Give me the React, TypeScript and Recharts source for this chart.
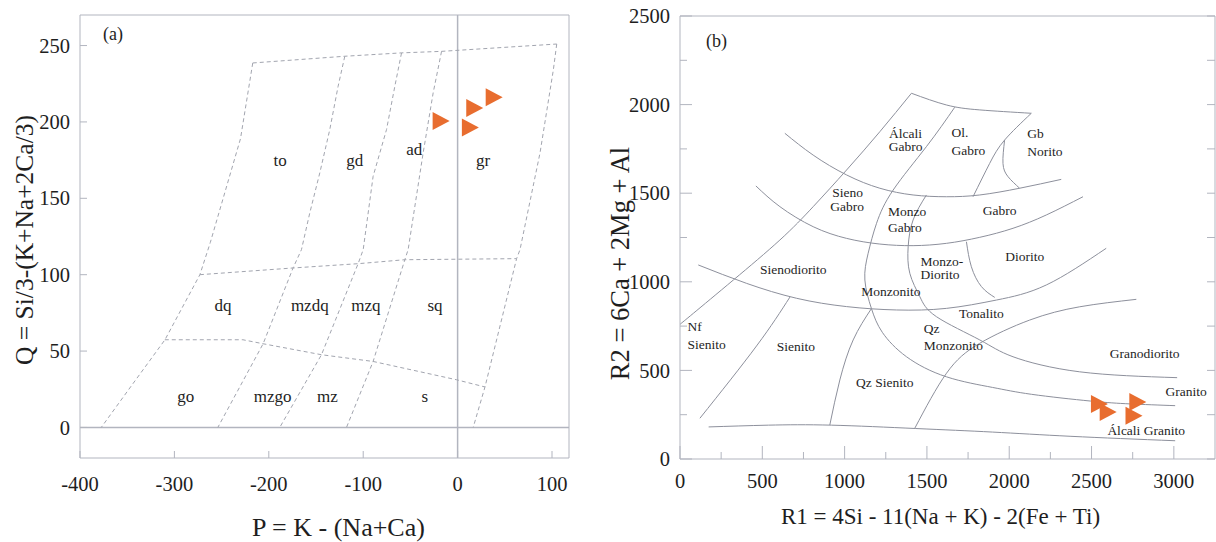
import { ComposedChart, Line, ReferenceLine, Scatter, XAxis, YAxis } from "recharts";

type Pt = [number, number];
type Lab = [number, number, string];

// ---- (a) P-Q diagram ----
const pqTicksX = [-400, -300, -200, -100, 0, 100];
const pqTicksY = [0, 50, 100, 150, 200, 250];

const pqTop: Pt[] = [[-217, 238.6], [-119.5, 243], [-59.4, 245.2], [-17, 246.2], [105, 251]];
const pqLeft: Pt[] = [[-217, 238.6], [-230, 189], [-262, 121], [-273, 100], [-310, 57.4], [-344, 28.6], [-377.5, 0]];
const pqTo: Pt[] = [[-119.5, 243], [-126.6, 223.3], [-135.4, 195], [-146, 166.6], [-156.6, 140.4], [-165.4, 116.4], [-174.3, 104.4], [-206, 54.8], [-254, 0]];
const pqGd: Pt[] = [[-59.4, 245.2], [-66.5, 223.3], [-75.3, 195], [-89.5, 164.4], [-100, 116.4], [-105.4, 107.2], [-144.2, 47.6], [-188.4, 0]];
const pqAd: Pt[] = [[-17, 246.2], [-25.9, 219], [-36.5, 179.7], [-52.4, 116.4], [-55.9, 109.8], [-89.5, 43.2], [-117.7, 0]];
const pqRight: Pt[] = [[105, 251], [101.4, 234], [87.3, 179.7], [66.1, 116.4], [62.5, 110.5], [29, 26.5], [16.5, 0]];
const pq100: Pt[] = [[-273, 100], [-174.3, 104.4], [-105.4, 107.2], [-55.9, 109.8], [62.5, 110.5]];
const pq50: Pt[] = [[-310.2, 57.4], [-227.4, 57.4], [-206.1, 54.8], [-144.2, 47.6], [-89.5, 43.2], [-1, 31.2], [29, 26.5]];

const pqLabels: Lab[] = [
  [-188, 175, "to"], [-109, 175, "gd"], [-46, 182, "ad"], [27, 175, "gr"],
  [-248.6, 80.4, "dq"], [-156.6, 80.4, "mzdq"], [-97.2, 80.4, "mzq"], [-24, 80.4, "sq"],
  [-288, 20.3, "go"], [-196, 20.3, "mzgo"], [-138, 20.3, "mz"], [-34.7, 20.3, "s"],
];
const pqTag: Lab[] = [[-365, 258, "(a)"]];
const pqSamples: Pt[] = [[-18, 200.6], [17.6, 209.2], [38.2, 216.1], [13, 196.3]];

// ---- (b) R1-R2 diagram ----
const rrTicksX = [0, 250, 500, 750, 1000, 1250, 1500, 1750, 2000, 2250, 2500, 2750, 3000];
const rrTicksY = [0, 250, 500, 750, 1000, 1250, 1500, 1750, 2000, 2250, 2500];

const rrTopArc: Pt[] = [[1406, 2064], [1618, 1998], [1821, 1970], [2134, 1951]];
const rrArcA: Pt[] = [[637, 1838], [809, 1715], [1012, 1603], [1214, 1528], [1416, 1490], [1618, 1480], [1821, 1490], [2063, 1528], [2316, 1578]];
const rrArcB: Pt[] = [[461, 1541], [607, 1424], [809, 1311], [1012, 1245], [1214, 1213], [1416, 1204], [1618, 1217], [1821, 1251], [2023, 1302], [2225, 1377], [2448, 1480]];
const rrArcC: Pt[] = [[111, 1095], [405, 991], [708, 907], [1012, 860], [1315, 841], [1618, 850], [1922, 897], [2225, 982], [2589, 1189]];
const rrGranodiorite: Pt[] = [[1426, 173], [1619, 484], [1821, 653], [2124, 784], [2428, 859], [2772, 901]];
const rrTonalite: Pt[] = [[1497, 1490], [1416, 1349], [1386, 1198], [1396, 1048], [1457, 916], [1558, 803], [1821, 672], [2023, 577], [2428, 492], [3020, 459]];
const rrMonzonite: Pt[] = [[1669, 1985], [1497, 1763], [1295, 1518], [1194, 1330], [1143, 1161], [1123, 1010], [1163, 849], [1229, 715], [1376, 577], [1618, 464], [1898, 404], [2136, 365], [2494, 327], [2733, 311], [3008, 301]];
const rrAlkaliEdge: Pt[] = [[1406, 2064], [1214, 1847], [1012, 1631], [809, 1424], [607, 1236], [324, 1010], [81, 822], [0, 760]];
const rrOlGabro: Pt[] = [[2134, 1951], [1972, 1800], [1881, 1668], [1780, 1480]];
const rrNorite: Pt[] = [[1972, 1800], [1962, 1668], [1993, 1593], [2063, 1528]];
const rrDiorite: Pt[] = [[1740, 1226], [1770, 1085], [1831, 973], [1912, 912]];
const rrSyenite: Pt[] = [[668, 914], [465, 638], [121, 230]];
const rrQzSyenite: Pt[] = [[1163, 849], [1052, 672], [971, 446], [910, 192]];
const rrBase: Pt[] = [[174, 181], [537, 191], [919, 191], [1432, 172], [1898, 152], [2375, 128], [3008, 103]];

const rrLabels: Lab[] = [
  [1370, 1838, "Álcali"], [1370, 1766, "Gabro"], [1018, 1505, "Sieno"], [1015, 1424, "Gabro"],
  [1942, 1405, "Gabro"], [2094, 1146, "Diorito"], [688, 1070, "Sienodiorito"], [1281, 944, "Monzonito"],
  [1831, 822, "Tonalito"], [704, 638, "Sienito"], [2822, 596, "Granodiorito"], [1244, 431, "Qz Sienito"],
  [3075, 381, "Granito"], [2832, 164, "Álcali Granito"],
];
const rrLabelsLeft: Lab[] = [
  [1649, 1842, "Ol."], [1649, 1743, "Gabro"], [2110, 1836, "Gb"], [2110, 1734, "Norito"],
  [1264, 1399, "Monzo"], [1264, 1305, "Gabro"], [1461, 1118, "Monzo-"], [1461, 1040, "Diorito"],
  [45, 750, "Nf"], [45, 650, "Sienito"], [1481, 737, "Qz"], [1481, 643, "Monzonito"],
];
const rrTag: Lab[] = [[222, 2358, "(b)"]];
const rrSamples: Pt[] = [[2545, 310], [2598, 265], [2778, 322], [2755, 244]];

const pqLines = [pqTop, pqLeft, pqTo, pqGd, pqAd, pqRight, pq100, pq50];
const rrLines = [rrTopArc, rrArcA, rrArcB, rrArcC, rrGranodiorite, rrTonalite, rrMonzonite, rrAlkaliEdge, rrOlGabro, rrNorite, rrDiorite, rrSyenite, rrQzSyenite, rrBase];

const toXY = (d: Pt[]) => d.map(([x, y]) => ({ x, y }));
const toLab = (d: Lab[]) => d.map(([x, y, t]) => ({ x, y, t }));

const INK = "#1e1e1e";
const FRAME = "#b2b5bf";
const DASH = "#a2a5af";
const CURVE = "#8d909c";
const ORANGE = "#e86d2f";
const FONT = "Liberation Serif";

const bottomTick = (gap: number, long: number, short: number, major: (v: number) => boolean) => (p: any) => {
  const v = p.payload.value;
  const m = major(v);
  const y0 = p.y - gap;
  return (
    <g>
      <line x1={p.x} x2={p.x} y1={y0} y2={y0 - (m ? long : short)} stroke={FRAME} />
      {m && (
        <text x={p.x} y={p.y} dy="0.71em" textAnchor="middle" fontFamily={FONT} fontSize={20.5} fill={INK}>
          {v}
        </text>
      )}
    </g>
  );
};

const leftTick = (gap: number, long: number, short: number, major: (v: number) => boolean) => (p: any) => {
  const v = p.payload.value;
  const m = major(v);
  const x0 = p.x + gap;
  return (
    <g>
      <line x1={x0} x2={x0 + (m ? long : short)} y1={p.y} y2={p.y} stroke={FRAME} />
      {m && (
        <text x={p.x} y={p.y} dy="0.35em" textAnchor="end" fontFamily={FONT} fontSize={20.5} fill={INK}>
          {v}
        </text>
      )}
    </g>
  );
};

const topTick = (len: number) => (p: any) => <line x1={p.x} x2={p.x} y1={p.y} y2={p.y + len} stroke={FRAME} />;
const rightTick = (len: number) => (p: any) => <line x1={p.x} x2={p.x - len} y1={p.y} y2={p.y} stroke={FRAME} />;

const titleX = (text: string, dx: number, dy: number, size: number) => (p: any) => {
  const vb = p.viewBox || { x: 0, y: 0, width: 0, height: 0 };
  return (
    <text x={vb.x + vb.width / 2 + dx} y={vb.y + dy} textAnchor="middle" dominantBaseline="central" fontFamily={FONT} fontSize={size} fill={INK}>
      {text}
    </text>
  );
};

const titleY = (text: string, cx: number, dy: number, size: number) => (p: any) => {
  const vb = p.viewBox || { x: 0, y: 0, width: 0, height: 0 };
  const x = vb.x + cx;
  const y = vb.y + vb.height / 2 + dy;
  return (
    <text x={x} y={y} transform={`rotate(-90 ${x} ${y})`} textAnchor="middle" dominantBaseline="central" fontFamily={FONT} fontSize={size} fill={INK}>
      {text}
    </text>
  );
};

const textShape = (anchor: "start" | "middle", size: number) => (p: any) => (
  <text x={p.cx} y={p.cy} dy="0.35em" textAnchor={anchor} fontFamily={FONT} fontSize={size} fill={INK}>
    {p.payload.t}
  </text>
);

const triangle = (p: any) => (
  <polygon points={`${p.cx - 8},${p.cy - 9} ${p.cx + 9},${p.cy} ${p.cx - 8},${p.cy + 9}`} fill={ORANGE} />
);

function PanelA() {
  return (
    <ComposedChart width={600} height={542} margin={{ top: 15, right: 31, bottom: 0, left: 0 }} style={{ fontFamily: FONT }}>
      <XAxis
        type="number"
        dataKey="x"
        domain={[-400, 118]}
        allowDataOverflow
        ticks={pqTicksX}
        interval={0}
        height={84}
        tickSize={0}
        tickMargin={18}
        tickLine={false}
        axisLine={{ stroke: FRAME }}
        tick={bottomTick(18, 7, 7, () => true)}
        label={{ content: titleX("P = K - (Na+Ca)", 14, 69, 26) }}
      />
      <XAxis xAxisId="top" orientation="top" mirror type="number" domain={[-400, 118]} allowDataOverflow tick={false} tickLine={false} axisLine={{ stroke: FRAME }} />
      <YAxis
        type="number"
        dataKey="y"
        domain={[-20, 270]}
        allowDataOverflow
        ticks={pqTicksY}
        interval={0}
        width={80}
        tickSize={0}
        tickMargin={10}
        tickLine={false}
        axisLine={{ stroke: FRAME }}
        tick={leftTick(10, 7, 7, () => true)}
        label={{ content: titleY("Q = Si/3-(K+Na+2Ca/3)", 24, 3.5, 25.5) }}
      />
      <YAxis yAxisId="right" orientation="right" mirror type="number" domain={[-20, 270]} allowDataOverflow tick={false} tickLine={false} axisLine={{ stroke: FRAME }} />
      <ReferenceLine x={0} stroke={FRAME} strokeWidth={1.5} />
      <ReferenceLine y={0} stroke={FRAME} strokeWidth={1.5} />
      {pqLines.map((d, i) => (
        <Line key={i} data={toXY(d)} dataKey="y" type="linear" stroke={DASH} strokeWidth={1} strokeDasharray="4 3" dot={false} activeDot={false} isAnimationActive={false} />
      ))}
      <Scatter data={toLab(pqLabels)} shape={textShape("middle", 17)} isAnimationActive={false} />
      <Scatter data={toLab(pqTag)} shape={textShape("middle", 18)} isAnimationActive={false} />
      <Scatter data={toXY(pqSamples)} shape={triangle} isAnimationActive={false} />
    </ComposedChart>
  );
}

function PanelB() {
  const majorX = (v: number) => v % 500 === 0;
  return (
    <ComposedChart width={616} height={542} margin={{ top: 16, right: 1, bottom: 0, left: 0 }} style={{ fontFamily: FONT }}>
      <XAxis
        type="number"
        dataKey="x"
        domain={[0, 3250]}
        allowDataOverflow
        ticks={rrTicksX}
        interval={0}
        height={83}
        tickSize={0}
        tickMargin={14}
        tickLine={false}
        axisLine={{ stroke: FRAME }}
        tick={bottomTick(14, 13, 7, majorX)}
        label={{ content: titleX("R1 = 4Si - 11(Na + K) - 2(Fe + Ti)", -7, 57, 23) }}
      />
      <XAxis xAxisId="top" orientation="top" mirror type="number" domain={[0, 3250]} allowDataOverflow ticks={rrTicksX} interval={0} tickSize={0} tickMargin={0} tickLine={false} axisLine={{ stroke: FRAME }} tick={topTick(8)} />
      <YAxis
        type="number"
        dataKey="y"
        domain={[0, 2500]}
        allowDataOverflow
        ticks={rrTicksY}
        interval={0}
        width={80}
        tickSize={0}
        tickMargin={10}
        tickLine={false}
        axisLine={{ stroke: FRAME }}
        tick={leftTick(10, 12, 7, majorX)}
        label={{ content: titleY("R2 = 6Ca + 2Mg + Al", 20, 26, 26.5) }}
      />
      <YAxis yAxisId="right" orientation="right" mirror type="number" domain={[0, 2500]} allowDataOverflow ticks={rrTicksY} interval={0} tickSize={0} tickMargin={0} tickLine={false} axisLine={{ stroke: FRAME }} tick={rightTick(8)} />
      {rrLines.map((d, i) => (
        <Line key={i} data={toXY(d)} dataKey="y" type="natural" stroke={CURVE} strokeWidth={1} dot={false} activeDot={false} isAnimationActive={false} />
      ))}
      <Scatter data={toLab(rrLabels)} shape={textShape("middle", 13.5)} isAnimationActive={false} />
      <Scatter data={toLab(rrLabelsLeft)} shape={textShape("start", 13.5)} isAnimationActive={false} />
      <Scatter data={toLab(rrTag)} shape={textShape("middle", 18)} isAnimationActive={false} />
      <Scatter data={toXY(rrSamples)} shape={triangle} isAnimationActive={false} />
    </ComposedChart>
  );
}

export default function App() {
  return (
    <div style={{ position: "absolute", left: 0, top: 0, width: 1216, height: 542, background: "#fff", fontFamily: FONT }}>
      <div style={{ position: "absolute", left: 0, top: 0 }}>
        <PanelA />
      </div>
      <div style={{ position: "absolute", left: 600, top: 0 }}>
        <PanelB />
      </div>
    </div>
  );
}
